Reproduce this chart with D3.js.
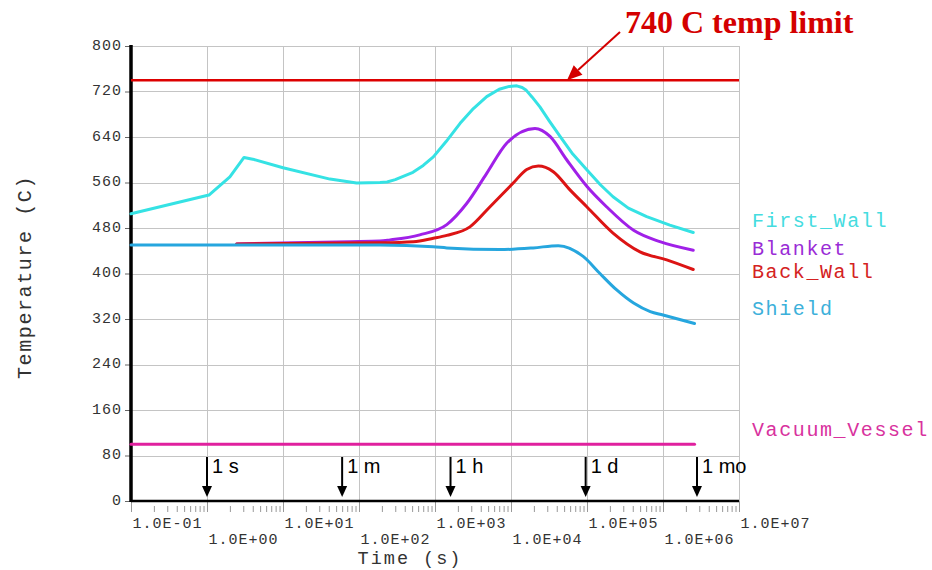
<!DOCTYPE html>
<html>
<head>
<meta charset="utf-8">
<script src="https://cdn.jsdelivr.net/npm/d3@7"></script>
<style>
  html, body { margin: 0; padding: 0; background: #fff; }
  svg { display: block; }
</style>
</head>
<body>
<svg id="chart" width="932" height="570"></svg>
<script>
// ---- Data: temperature histories (time in s, temperature in C) ----
const firstWall = [
  [0.1, 505], [1.06, 538], [2.0, 570], [3.07, 604], [4.0, 601], [10, 586],
  [41.5, 566], [93, 559], [189, 560], [234, 561], [300, 565], [513, 578],
  [700, 590], [951, 605], [1400, 632], [2140, 664], [3200, 690], [4790, 711],
  [7000, 724], [9500, 729], [11900, 730], [14000, 727], [15900, 722],
  [19000, 710], [24000, 693], [32000, 668], [44200, 641], [65000, 610],
  [1.0e5, 582], [1.5e5, 556], [2.2e5, 535], [3.5e5, 515], [6.1e5, 500],
  [1.23e6, 485], [2.5e6, 472]
];
const blanket = [
  [2.45, 452], [76, 456], [189, 457], [257, 459], [630, 468], [1430, 486],
  [2610, 523], [4790, 576], [8770, 629], [20700, 655], [32600, 641],
  [54000, 600], [1.0e5, 553], [1.82e5, 517], [4.1e5, 476], [9.1e5, 456], [2.5e6, 441]
];
const backWall = [
  [2.45, 452], [189, 454], [519, 456], [950, 462], [1430, 467], [2880, 482],
  [5260, 517], [10700, 559], [16100, 583], [22900, 589], [36000, 579], [59700, 547],
  [1.0e5, 517], [2.2e5, 471], [4.98e5, 438], [1.12e6, 424], [2.5e6, 407]
];
const shield = [
  [0.1, 450], [189, 450], [950, 447], [1430, 445], [7160, 442], [19600, 445],
  [41900, 449], [89000, 430], [1.48e5, 400], [2.46e5, 371], [4.1e5, 348],
  [6.8e5, 333], [1.0e6, 327], [2.6e6, 312]
];
const vacuumVessel = [[0.1, 100], [2.6e6, 100]];

const seriesNames  = ["First_Wall", "Blanket", "Back_Wall", "Shield", "Vacuum_Vessel"];
const seriesData   = [firstWall, blanket, backWall, shield, vacuumVessel];
const seriesColors = ["#35e2e4", "#a020e8", "#dc1414", "#26a6de", "#e0209e"];
const legendColors = ["#45dcdf", "#9a2cd6", "#d42222", "#3cb0da", "#d8329e"];
const legendTemps  = [492, 443, 403, 338, 125]; // vertical slot of each label, in C

const tempLimit = 740;
const limitLabel = "740 C temp limit";

// Reference times marked along the bottom (s)
const markerTimes  = [1, 60, 1600, 9.6e4, 2.8e6];
const markerLabels = ["1 s", "1 m", "1 h", "1 d", "1 mo"];

const yTicks = d3.range(0, 801, 80);
const xDecades = [1e-1, 1e0, 1e1, 1e2, 1e3, 1e4, 1e5, 1e6, 1e7];

// ---- Scales ----
const x = d3.scaleLog().domain([1e-1, 1e7]).range([131, 739]);
const y = d3.scaleLinear().domain([0, 800]).range([501, 46]);

const svg = d3.select("#chart");
const MONO = "'Liberation Mono', 'Courier New', monospace";

// ---- Grid ----
const grid = svg.append("g").attr("stroke", "#c4c4c4").attr("stroke-width", 1);
grid.selectAll("line.v").data(xDecades.slice(1)).join("line")
  .attr("x1", d => Math.round(x(d)) + 0.5).attr("x2", d => Math.round(x(d)) + 0.5)
  .attr("y1", y(800)).attr("y2", y(0));
grid.selectAll("line.h").data(yTicks.slice(1)).join("line")
  .attr("x1", x(1e-1)).attr("x2", x(1e7))
  .attr("y1", d => Math.round(y(d)) + 0.5).attr("y2", d => Math.round(y(d)) + 0.5);

// ---- Y axis ----
const yAxis = svg.append("g")
  .attr("transform", `translate(${x(1e-1)},0)`)
  .call(d3.axisLeft(y).tickValues(yTicks).tickSize(6).tickPadding(3));
yAxis.select(".domain").remove();
yAxis.selectAll(".tick line").attr("stroke", "#666");
yAxis.selectAll(".tick text")
  .attr("font-family", MONO).attr("font-size", 15).attr("letter-spacing", 1)
  .attr("fill", "#333").attr("dy", "0.22em");

// ---- X axis: minor ticks, then decade ticks with staggered labels ----
const minorTicks = [];
xDecades.slice(0, -1).forEach(d => { for (let k = 2; k <= 9; k++) minorTicks.push(d * k); });
const xMinor = svg.append("g").attr("transform", `translate(0,506)`)
  .call(d3.axisBottom(x).tickValues(minorTicks).tickSize(6).tickFormat(""));
xMinor.select(".domain").remove();
xMinor.selectAll(".tick line").attr("stroke", "#999");

const fmtExp = d => {
  const e = Math.round(Math.log10(d));
  return "1.0E" + (e < 0 ? "-" : "+") + String(Math.abs(e)).padStart(2, "0");
};
const xAxis = svg.append("g").attr("transform", `translate(0,${y(0)})`)
  .call(d3.axisBottom(x).tickValues(xDecades).tickSize(11).tickFormat(fmtExp));
xAxis.select(".domain").remove();
xAxis.selectAll(".tick line").attr("stroke", "#999");
xAxis.selectAll(".tick text")
  .attr("font-family", MONO).attr("font-size", 15).attr("letter-spacing", 1)
  .attr("fill", "#333")
  .attr("text-anchor", "start").attr("x", 1)
  .attr("dy", null)
  .attr("y", (d, i) => i % 2 === 0 ? 26.5 : 42.5);

// Axis lines
svg.append("line").attr("x1", x(1e-1)).attr("x2", x(1e7))
  .attr("y1", y(0)).attr("y2", y(0)).attr("stroke", "#000").attr("stroke-width", 2.5);
svg.append("line").attr("x1", x(1e-1)).attr("x2", x(1e-1))
  .attr("y1", y(800) - 1).attr("y2", y(0) + 1).attr("stroke", "#000").attr("stroke-width", 3.5);

// ---- Axis titles ----
svg.append("text")
  .attr("x", 410).attr("y", 563.5).attr("text-anchor", "middle")
  .attr("font-family", MONO).attr("font-size", 18.5).attr("letter-spacing", 2)
  .attr("fill", "#333").text("Time (s)");
svg.append("text")
  .attr("transform", "translate(31,277) rotate(-90)").attr("text-anchor", "middle")
  .attr("font-family", MONO).attr("font-size", 20).attr("letter-spacing", 1.6)
  .attr("fill", "#333").text("Temperature (C)");

// ---- Temperature limit ----
svg.append("line").attr("x1", x(1e-1)).attr("x2", x(1e7))
  .attr("y1", y(tempLimit)).attr("y2", y(tempLimit))
  .attr("stroke", "#dd0000").attr("stroke-width", 2.5);

// ---- Series ----
// First wall has sharp corners early on, so it is joined with straight segments
const curves = [d3.curveLinear, d3.curveMonotoneX, d3.curveMonotoneX, d3.curveMonotoneX, d3.curveLinear];
svg.append("g").selectAll("path").data(seriesData).join("path")
  .attr("d", (d, i) => d3.line().x(p => x(p[0])).y(p => y(p[1])).curve(curves[i])(d))
  .attr("fill", "none")
  .attr("stroke", (d, i) => seriesColors[i]).attr("stroke-width", 3)
  .attr("stroke-linejoin", "round").attr("stroke-linecap", "round");

// Labels at the right end of each curve
svg.append("g").selectAll("text").data(seriesNames).join("text")
  .attr("x", 752).attr("y", (d, i) => y(legendTemps[i]) + 6)
  .attr("font-family", MONO).attr("font-size", 20).attr("letter-spacing", 1.6)
  .attr("fill", (d, i) => legendColors[i]).text(d => d);

// ---- Time markers ----
const markers = svg.append("g").selectAll("g").data(markerTimes).join("g")
  .attr("transform", d => `translate(${x(d)},0)`);
markers.append("line").attr("x1", 0).attr("x2", 0).attr("y1", 457).attr("y2", 487)
  .attr("stroke", "#000").attr("stroke-width", 2);
markers.append("path").attr("d", "M-5,486 L5,486 L0,497 Z").attr("fill", "#000");
markers.append("text").attr("x", 5).attr("y", 473)
  .attr("font-family", "'Liberation Sans', Arial, sans-serif").attr("font-size", 20)
  .attr("fill", "#000").text((d, i) => markerLabels[i]);

// ---- Limit annotation ----
const tipX = 567, tipY = y(tempLimit);
const startX = 620, startY = 32;
const ang = Math.atan2(tipY - startY, tipX - startX);
const headLen = 15, headHalf = 6.5;
const bx = tipX - headLen * Math.cos(ang), by = tipY - headLen * Math.sin(ang);
svg.append("line").attr("x1", startX).attr("y1", startY).attr("x2", bx).attr("y2", by)
  .attr("stroke", "#d40000").attr("stroke-width", 2);
svg.append("path")
  .attr("d", `M${tipX},${tipY} L${bx + headHalf * Math.sin(ang)},${by - headHalf * Math.cos(ang)} L${bx - headHalf * Math.sin(ang)},${by + headHalf * Math.cos(ang)} Z`)
  .attr("fill", "#d40000");
svg.append("text").attr("x", 625).attr("y", 33)
  .attr("font-family", "'Liberation Serif', 'Times New Roman', serif")
  .attr("font-weight", "bold").attr("font-size", 32).attr("fill", "#d40000")
  .text(limitLabel);
</script>
</body>
</html>
